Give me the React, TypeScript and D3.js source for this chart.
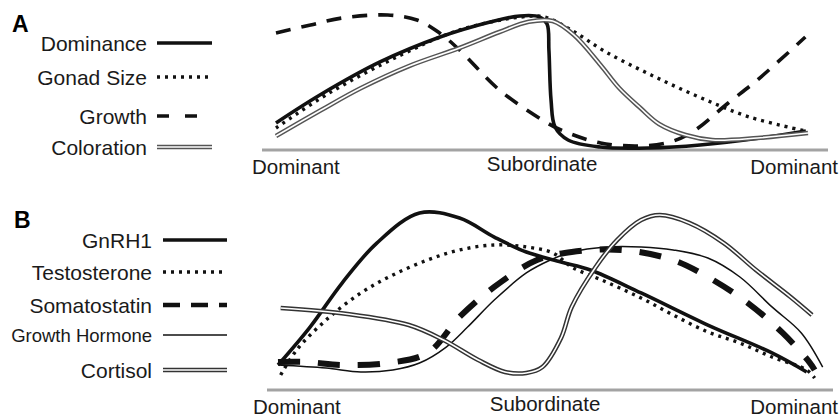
import React from 'react';
import * as d3 from 'd3';

const W = 839;
const H = 418;

const stageLabels = ['Dominant', 'Subordinate', 'Dominant'];

// points are [social stage (0 = dominant, 1 = subordinate, 2 = dominant again), relative level 0-100]
const dominance: [number, number][] = [
  [0, 20], [0.165, 40.7], [0.391, 65.2], [0.617, 83.7], [0.805, 94.8], [0.917, 99.3],
  [0.992, 98.5], [1.019, 93.3], [1.026, 74], [1.034, 37], [1.049, 17], [1.098, 7.4],
  [1.218, 2.2], [1.406, 1.5], [1.594, 3.7], [1.82, 8.9], [1.992, 14.1],
];
const gonadSize: [number, number][] = [
  [0, 16.3], [0.2, 42.2], [0.47, 70.4], [0.69, 88.9], [0.92, 98.5], [1.01, 98.5],
  [1.11, 88.9], [1.24, 72.6], [1.41, 55.6], [1.59, 39.3], [1.78, 24.4], [1.99, 14.1],
];
const growth: [number, number][] = [
  [0, 86.7], [0.13, 92.6], [0.25, 97.8], [0.42, 100], [0.53, 96.3], [0.61, 87.4],
  [0.69, 74.1], [0.84, 44.4], [1.02, 20], [1.09, 13.3], [1.22, 5.2], [1.37, 3],
  [1.48, 5.9], [1.56, 12.6], [1.7, 34.8], [1.81, 51.9], [1.99, 83.7],
];
const coloration: [number, number][] = [
  [0, 10.4], [0.17, 29.6], [0.32, 45.9], [0.5, 62.2], [0.69, 75.6], [0.84, 87.4],
  [0.95, 95], [1.04, 95.5], [1.12, 85.2], [1.22, 63], [1.29, 45.9], [1.37, 31.1],
  [1.44, 19.3], [1.54, 11.1], [1.64, 7.4], [1.81, 8.9], [2, 12.6],
];

const gnrh1: [number, number][] = [
  [0, 8.9], [0.12, 31.5], [0.24, 57.7], [0.37, 81.5], [0.53, 99.4], [0.68, 96.4],
  [0.81, 85.1], [0.93, 76.2], [1.06, 70.2], [1.17, 65.5], [1.36, 51.8], [1.61, 32.7],
  [1.85, 16.1], [1.98, 4.8],
];
const testosterone: [number, number][] = [
  [0.01, 3], [0.07, 17.9], [0.18, 35.7], [0.31, 51.8], [0.43, 62.5], [0.56, 71.4],
  [0.68, 77.4], [0.81, 80.4], [0.93, 79.2], [1.03, 75.6], [1.1, 67.3], [1.23, 58.3],
  [1.36, 48.8], [1.48, 38.7], [1.61, 28.6], [1.73, 22], [1.85, 13.7], [1.98, 6], [2.01, 1.2],
];
const somatostatin: [number, number][] = [
  [0, 10.7], [0.11, 10.7], [0.24, 8.9], [0.41, 10.1], [0.56, 16.1], [0.68, 37.5],
  [0.81, 55.4], [0.97, 71.4], [1.1, 76.2], [1.29, 77.4], [1.48, 71.4], [1.61, 61.3],
  [1.76, 45.8], [1.89, 28], [1.99, 10.7], [2.01, 6],
];
const growthHormone: [number, number][] = [
  [0, 8.9], [0.18, 7.1], [0.31, 4.8], [0.43, 6], [0.53, 10.1], [0.63, 19.6],
  [0.71, 31.5], [0.81, 47.6], [0.93, 63.7], [1.02, 71.4], [1.1, 76.2], [1.23, 79.2],
  [1.36, 79.2], [1.48, 77.4], [1.61, 72.6], [1.73, 61.3], [1.85, 43.5], [1.96, 28], [2.04, 7.7],
];
const cortisol: [number, number][] = [
  [0.01, 42.9], [0.26, 39.3], [0.49, 32.7], [0.62, 23.8], [0.75, 11.9], [0.85, 4.8],
  [0.93, 4.2], [0.99, 7.7], [1.06, 25], [1.1, 43.5], [1.19, 67.3], [1.27, 83.3],
  [1.36, 95.2], [1.43, 98.2], [1.54, 93.5], [1.67, 81.5], [1.79, 65.5], [1.92, 49.4], [2, 38.7],
];

const seriesA = [
  { name: 'Dominance', data: dominance, kind: 'solid' },
  { name: 'Gonad Size', data: gonadSize, kind: 'dotted' },
  { name: 'Growth', data: growth, kind: 'dashed' },
  { name: 'Coloration', data: coloration, kind: 'double', color: '#555' },
];
const seriesB = [
  { name: 'GnRH1', data: gnrh1, kind: 'solid' },
  { name: 'Testosterone', data: testosterone, kind: 'dotted' },
  { name: 'Somatostatin', data: somatostatin, kind: 'heavy' },
  { name: 'Growth Hormone', data: growthHormone, kind: 'thin', small: true },
  { name: 'Cortisol', data: cortisol, kind: 'double', color: '#333' },
];

function Stroke({ d, kind, color, legend }: any) {
  const base = { fill: 'none', stroke: '#111', strokeLinejoin: 'round' as const };
  if (kind === 'solid') return <path d={d} {...base} strokeWidth={3.6} />;
  if (kind === 'thin') return <path d={d} {...base} strokeWidth={1.5} />;
  if (kind === 'dotted') return <path d={d} {...base} strokeWidth={3.4} strokeDasharray="3 5" />;
  if (kind === 'dashed')
    return <path d={d} {...base} strokeWidth={3.6} strokeDasharray={legend ? '12 16' : '15 11'} />;
  if (kind === 'heavy')
    return <path d={d} {...base} strokeWidth={legend ? 4.5 : 6} strokeDasharray={legend ? '17 11' : '22 18'} />;
  return (
    <g>
      <path d={d} {...base} stroke={color} strokeWidth={4.6} />
      <path d={d} {...base} stroke="#fff" strokeWidth={1.6} />
    </g>
  );
}

function Panel({ letter, series, layout }: any) {
  const x = d3.scaleLinear().domain([0, 2]).range(layout.xRange);
  const y = d3.scaleLinear().domain([0, 100]).range(layout.yRange);
  const line = d3
    .line<[number, number]>()
    .x((d) => x(d[0]))
    .y((d) => y(d[1]))
    .curve(d3.curveCatmullRom.alpha(0.5));

  const [x0, x1] = layout.xRange;
  const axisLeft = x0 - layout.axisPad[0];
  const axisRight = x1 + layout.axisPad[1];

  return (
    <g fontFamily="'Liberation Sans', Arial, sans-serif" fill="#1a1a1a">
      <text x={layout.letter[0]} y={layout.letter[1]} fontSize={23} fontWeight="bold" fill="#000">
        {letter}
      </text>
      {series.map((s: any, i: number) => {
        const ly = layout.legendY[i];
        return (
          <g key={s.name}>
            <text
              x={layout.labelX}
              y={ly + (s.small ? 6.5 : 7.5)}
              textAnchor="end"
              fontSize={s.small ? 18.5 : 21}
            >
              {s.name}
            </text>
            <Stroke d={`M${layout.legendX[0]},${ly}H${layout.legendX[1]}`} kind={s.kind} color={s.color} legend />
          </g>
        );
      })}
      <line x1={axisLeft} x2={axisRight} y1={layout.axisY} y2={layout.axisY} stroke="#a3a3a3" strokeWidth={3} />
      <text x={axisLeft - layout.labelPad[0]} y={layout.labelY[0]} fontSize={20.5}>{stageLabels[0]}</text>
      <text x={x(1)} y={layout.labelY[1]} fontSize={20.5} textAnchor="middle">{stageLabels[1]}</text>
      <text x={axisRight + layout.labelPad[1]} y={layout.labelY[2]} fontSize={20.5} textAnchor="end">{stageLabels[2]}</text>
      {series.map((s: any) => (
        <Stroke key={s.name} d={line(s.data) || ''} kind={s.kind} color={s.color} />
      ))}
    </g>
  );
}

export default function App() {
  const layoutA = {
    letter: [12, 32],
    xRange: [276, 808],
    yRange: [150, 15],
    axisY: 150,
    axisPad: [14, 20],
    labelPad: [10, 10],
    labelY: [174, 171, 174],
    labelX: 147,
    legendX: [157, 212],
    legendY: [43, 77, 116, 147],
  };
  const layoutB = {
    letter: [14, 228],
    xRange: [278, 812],
    yRange: [380, 212],
    axisY: 390,
    axisPad: [11, 21],
    labelPad: [14, 5],
    labelY: [414, 411, 414],
    labelX: 152,
    legendX: [163, 227],
    legendY: [240, 272, 305, 335, 370],
  };
  return (
    <svg width={W} height={H} style={{ position: 'absolute', left: 0, top: 0, background: '#fff' }}>
      <Panel letter="A" series={seriesA} layout={layoutA} />
      <Panel letter="B" series={seriesB} layout={layoutB} />
    </svg>
  );
}
